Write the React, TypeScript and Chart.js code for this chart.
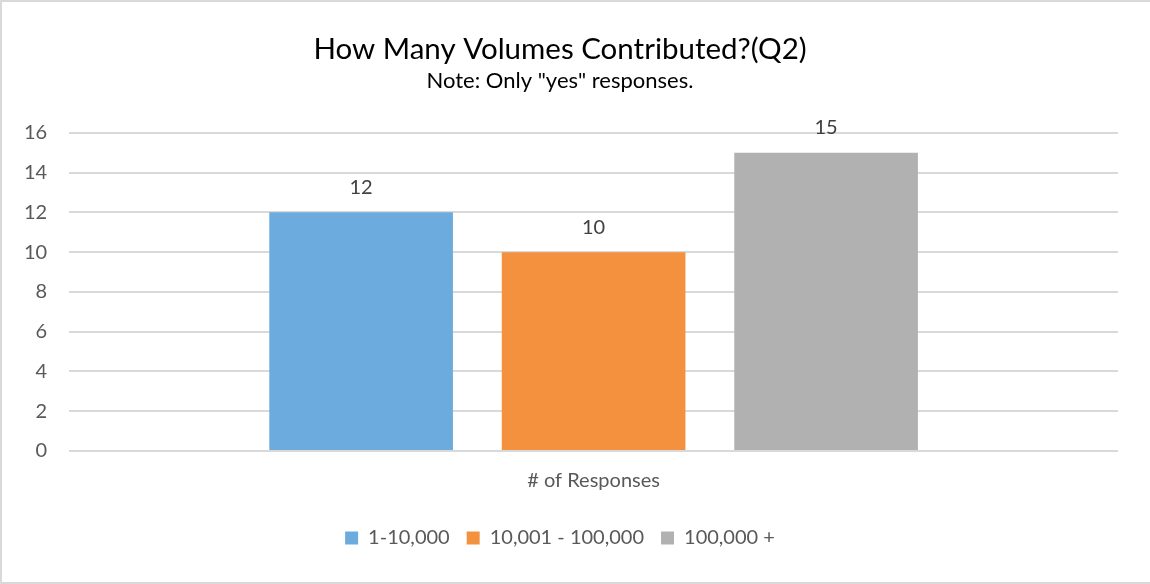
import React, { useEffect, useRef } from "react";
import { Chart, registerables } from "chart.js";

Chart.register(...registerables);

const categories = ["# of Responses"];
const seriesNames = ["1-10,000", "10,001 - 100,000", "100,000 +"];
const seriesValues = [[12], [10], [15]];
const seriesColors = ["#6CABDD", "#F3913F", "#B1B1B1"];
const yTicks = [0, 2, 4, 6, 8, 10, 12, 14, 16];
const titleText = "How Many Volumes Contributed?(Q2)";
const subtitleText = 'Note: Only "yes" responses.';

const FONT = "Lato, 'Open Sans', sans-serif";

const dataLabels = {
  id: "dataLabels",
  afterDatasetsDraw(chart: any) {
    const ctx = chart.ctx;
    ctx.save();
    ctx.font = `20px ${FONT}`;
    ctx.fillStyle = "#404040";
    ctx.textAlign = "center";
    ctx.textBaseline = "middle";
    chart.data.datasets.forEach((ds: any, i: number) => {
      const meta = chart.getDatasetMeta(i);
      meta.data.forEach((el: any, j: number) => {
        ctx.fillText(String(ds.data[j]), el.x, el.y - 25);
      });
    });
    ctx.restore();
  },
};

export default function App() {
  const ref = useRef<HTMLCanvasElement>(null);
  useEffect(() => {
    if (!ref.current) return;
    const chart = new Chart(ref.current, {
      type: "bar",
      data: {
        labels: categories,
        datasets: seriesNames.map((name, i) => ({
          label: name,
          data: seriesValues[i],
          backgroundColor: seriesColors[i],
          borderWidth: 0,
          barPercentage: 0.79,
          categoryPercentage: 0.665,
        })),
      },
      options: {
        responsive: false,
        animation: false,
        maintainAspectRatio: false,
        layout: { padding: { top: 0, left: 0, right: 32, bottom: 24 } },
        plugins: {
          title: {
            display: true,
            text: titleText,
            color: "#000000",
            font: { family: FONT, size: 29.5, weight: "normal" },
            padding: { top: 30, bottom: 0 },
          },
          subtitle: {
            display: true,
            text: subtitleText,
            color: "#000000",
            font: { family: FONT, size: 22, weight: "normal" },
            padding: { top: 0, bottom: 39 },
          },
          legend: {
            position: "bottom",
            labels: {
              boxWidth: 13,
              boxHeight: 13,
              color: "#595959",
              font: { family: FONT, size: 20 },
              padding: 17,
            },
          },
          tooltip: { enabled: false },
        },
        scales: {
          x: {
            grid: { display: false, drawTicks: false },
            border: { display: false },
            ticks: {
              color: "#595959",
              font: { family: FONT, size: 20 },
              padding: 18,
            },
          },
          y: {
            min: 0,
            max: 16,
            afterBuildTicks: (axis: any) => {
              axis.ticks = yTicks.map((v) => ({ value: v }));
            },
            grid: { color: "#D9D9D9", lineWidth: 2, drawTicks: false },
            border: { display: false },
            ticks: {
              color: "#595959",
              font: { family: FONT, size: 20 },
              padding: 22,
            },
          },
        },
      },
      plugins: [dataLabels],
    });
    return () => chart.destroy();
  }, []);
  return (
    <div
      style={{
        position: "absolute",
        left: 0,
        top: 0,
        width: 1150,
        height: 584,
        background: "#fff",
        boxSizing: "border-box",
        borderLeft: "2px solid #D9D9D9",
        borderTop: "2px solid #D9D9D9",
        borderBottom: "2px solid #D9D9D9",
      }}
    >
      <canvas ref={ref} width={1148} height={580} style={{ display: "block" }} />
    </div>
  );
}
